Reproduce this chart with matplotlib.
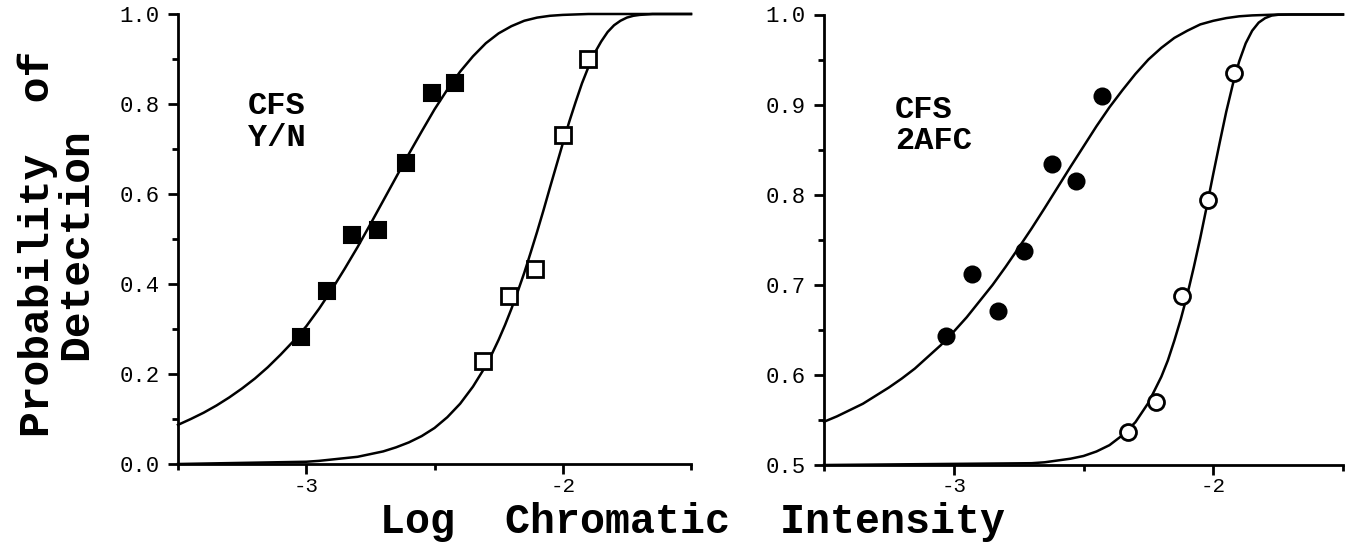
import matplotlib
matplotlib.use("Agg")
import matplotlib.pyplot as plt
from matplotlib.ticker import FixedLocator, FormatStrFormatter

plt.rcParams['font.family'] = ['Liberation Mono', 'DejaVu Sans']

# ---------------- data ----------------
# Left panel: CFS Y/N
yn_filled_x = [-3.02, -2.92, -2.82, -2.72, -2.61, -2.51, -2.42]
yn_filled_y = [0.283, 0.384, 0.509, 0.520, 0.668, 0.825, 0.846]
yn_open_x = [-2.31, -2.21, -2.11, -2.00, -1.90]
yn_open_y = [0.229, 0.374, 0.433, 0.731, 0.900]

yn_fit_filled_x = [-3.5, -3.45, -3.4, -3.35, -3.3, -3.25, -3.2, -3.15, -3.1, -3.05,
                   -3.0, -2.95, -2.9, -2.85, -2.8, -2.75, -2.7, -2.65, -2.6, -2.55,
                   -2.5, -2.45, -2.4, -2.35, -2.3, -2.25, -2.2, -2.15, -2.1, -2.05,
                   -2.0, -1.95, -1.9, -1.5]
yn_fit_filled_y = [0.087, 0.100, 0.114, 0.130, 0.148, 0.168, 0.190, 0.215, 0.243, 0.273,
                   0.306, 0.345, 0.388, 0.434, 0.482, 0.533, 0.585, 0.637, 0.689, 0.739,
                   0.788, 0.832, 0.872, 0.906, 0.935, 0.957, 0.973, 0.985, 0.992, 0.996,
                   0.998, 0.999, 1.0, 1.0]
yn_fit_open_x = [-3.5, -3.0, -2.95, -2.9, -2.85, -2.8, -2.75, -2.7, -2.65, -2.6,
                 -2.55, -2.5, -2.45, -2.4, -2.35, -2.3, -2.275, -2.25, -2.225, -2.2,
                 -2.175, -2.15, -2.125, -2.1, -2.075, -2.05, -2.025, -2.0, -1.975, -1.95,
                 -1.925, -1.9, -1.875, -1.85, -1.825, -1.8, -1.775, -1.75, -1.725, -1.7,
                 -1.65, -1.5]
yn_fit_open_y = [0.0, 0.005, 0.007, 0.010, 0.013, 0.016, 0.022, 0.028, 0.037, 0.048,
                 0.062, 0.080, 0.104, 0.134, 0.172, 0.218, 0.246, 0.276, 0.309, 0.345,
                 0.384, 0.425, 0.470, 0.516, 0.564, 0.614, 0.663, 0.712, 0.760, 0.804,
                 0.846, 0.882, 0.914, 0.939, 0.960, 0.975, 0.985, 0.992, 0.996, 0.998,
                 1.0, 1.0]

# Right panel: CFS 2AFC
afc_filled_x = [-3.03, -2.93, -2.83, -2.73, -2.62, -2.53, -2.43]
afc_filled_y = [0.643, 0.712, 0.671, 0.738, 0.834, 0.815, 0.909]
afc_open_x = [-2.33, -2.22, -2.12, -2.02, -1.92]
afc_open_y = [0.537, 0.570, 0.688, 0.794, 0.935]

afc_fit_filled_x = [-3.5, -3.45, -3.4, -3.35, -3.3, -3.25, -3.2, -3.15, -3.1, -3.05,
                    -3.0, -2.95, -2.9, -2.85, -2.8, -2.75, -2.7, -2.65, -2.6, -2.55,
                    -2.5, -2.45, -2.4, -2.35, -2.3, -2.25, -2.2, -2.15, -2.1, -2.05,
                    -2.0, -1.95, -1.9, -1.85, -1.75, -1.5]
afc_fit_filled_y = [0.548, 0.554, 0.561, 0.568, 0.577, 0.586, 0.596, 0.607, 0.620, 0.633,
                    0.648, 0.664, 0.682, 0.700, 0.720, 0.741, 0.7625, 0.785, 0.808, 0.831,
                    0.8535, 0.876, 0.897, 0.916, 0.934, 0.950, 0.963, 0.974, 0.982, 0.989,
                    0.993, 0.996, 0.998, 0.999, 1.0, 1.0]
afc_fit_open_x = [-3.5, -2.7, -2.65, -2.6, -2.55, -2.5, -2.45, -2.4, -2.35, -2.3,
                  -2.25, -2.2, -2.175, -2.15, -2.125, -2.1, -2.075, -2.05, -2.025, -2.0,
                  -1.975, -1.95, -1.925, -1.9, -1.875, -1.85, -1.825, -1.8, -1.775, -1.75,
                  -1.7, -1.5]
afc_fit_open_y = [0.5, 0.502, 0.503, 0.505, 0.507, 0.510, 0.515, 0.522, 0.533, 0.5475,
                  0.569, 0.598, 0.616, 0.638, 0.662, 0.689, 0.7195, 0.752, 0.787, 0.823,
                  0.858, 0.892, 0.922, 0.948, 0.968, 0.982, 0.991, 0.996, 0.9988, 0.9997,
                  1.0, 1.0]

x_major = [-3, -2]
x_minor = [-3.5, -2.5, -1.5]
x_labels = ["-3", "-2"]
yn_y_major = [0.0, 0.2, 0.4, 0.6, 0.8, 1.0]
yn_y_minor = [0.1, 0.3, 0.5, 0.7, 0.9]
afc_y_major = [0.5, 0.6, 0.7, 0.8, 0.9, 1.0]
afc_y_minor = [0.55, 0.65, 0.75, 0.85, 0.95]

# ---------------- figure ----------------
W, H = 1351, 545
fig = plt.figure(figsize=(W / 100, H / 100), dpi=100)
ax1 = fig.add_axes([178 / W, 81 / H, 513 / W, 450 / H])
ax2 = fig.add_axes([824 / W, 80 / H, 519 / W, 450.5 / H])

TICK_FS = 16
LBL_FS = 30
ANN_FS = 23


def style(ax, ylim, ymaj, ymin):
    ax.set_xlim(-3.5, -1.5)
    ax.set_ylim(*ylim)
    for s in ("top", "right"):
        ax.spines[s].set_visible(False)
    for s in ("left", "bottom"):
        ax.spines[s].set_linewidth(2.0)
    ax.xaxis.set_major_locator(FixedLocator(x_major))
    ax.xaxis.set_minor_locator(FixedLocator(x_minor))
    ax.set_xticklabels(x_labels, fontsize=TICK_FS - 1)
    ax.yaxis.set_major_locator(FixedLocator(ymaj))
    ax.yaxis.set_minor_locator(FixedLocator(ymin))
    ax.yaxis.set_major_formatter(FormatStrFormatter("%.1f"))
    ax.tick_params(axis="both", which="major", direction="out", length=7, width=2,
                   color="black")
    ax.tick_params(axis="y", which="major", labelsize=TICK_FS, pad=6)
    ax.tick_params(axis="both", which="minor", direction="out", length=4, width=2)
    ax.tick_params(axis="x", which="major", pad=2)


style(ax1, (0.0, 1.0), yn_y_major, yn_y_minor)
style(ax2, (0.5, 1.0), afc_y_major, afc_y_minor)

LW = 1.8
MS = 11
ax1.plot(yn_fit_filled_x, yn_fit_filled_y, color="black", lw=LW, clip_on=False, zorder=2)
ax1.plot(yn_fit_open_x, yn_fit_open_y, color="black", lw=LW, clip_on=False, zorder=2)
ax1.plot(yn_filled_x, yn_filled_y, ls="none", marker="s", ms=MS, mfc="black", mec="black",
         mew=1.5, zorder=3, clip_on=False)
ax1.plot(yn_open_x, yn_open_y, ls="none", marker="s", ms=MS, mfc="white", mec="black",
         mew=2, zorder=3, clip_on=False)

ax2.plot(afc_fit_filled_x, afc_fit_filled_y, color="black", lw=LW, clip_on=False, zorder=2)
ax2.plot(afc_fit_open_x, afc_fit_open_y, color="black", lw=LW, clip_on=False, zorder=2)
ax2.plot(afc_filled_x, afc_filled_y, ls="none", marker="o", ms=MS + 0.5, mfc="black",
         mec="black", mew=1.5, zorder=3, clip_on=False)
ax2.plot(afc_open_x, afc_open_y, ls="none", marker="o", ms=MS + 0.5, mfc="white",
         mec="black", mew=2, zorder=3, clip_on=False)

ax1.text(0.136, 0.828, "CFS\nY/N", transform=ax1.transAxes, ha="left", va="top",
         fontsize=ANN_FS, fontweight="bold", linespacing=1.05)
ax2.text(0.137, 0.822, "CFS\n2AFC", transform=ax2.transAxes, ha="left", va="top",
         fontsize=ANN_FS, fontweight="bold", linespacing=1.05)

fig.text(692 / W, (H - 533) / H, "Log  Chromatic  Intensity", ha="center", va="baseline",
         fontsize=LBL_FS, fontweight="bold")
fig.text(57 / W, (H - 244) / H, "Probability  of\nDetection", rotation=90, ha="center",
         va="center", multialignment="center", linespacing=0.92,
         fontsize=LBL_FS + 1, fontweight="bold")

fig.savefig("out.png", dpi=100, facecolor="white")
